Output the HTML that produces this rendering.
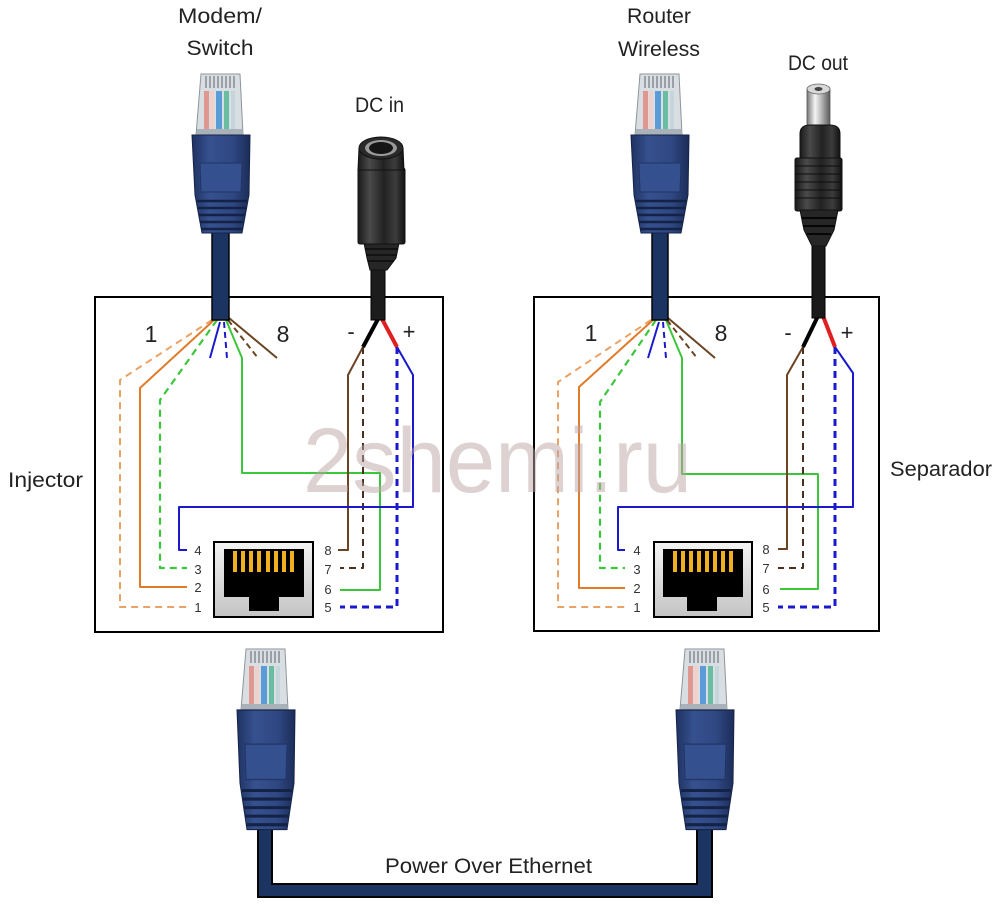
<!DOCTYPE html>
<html>
<head>
<meta charset="utf-8">
<style>
  html,body{margin:0;padding:0;background:#fff;}
  svg{display:block;}
  text{font-family:"Liberation Sans",sans-serif;}
</style>
</head>
<body>
<svg width="998" height="917" viewBox="0 0 998 917" xmlns="http://www.w3.org/2000/svg">
  <defs>
    <linearGradient id="bootg" x1="0" y1="0" x2="1" y2="0">
      <stop offset="0" stop-color="#1f3262"/>
      <stop offset="0.3" stop-color="#36518f"/>
      <stop offset="0.7" stop-color="#2f4883"/>
      <stop offset="1" stop-color="#1b2c58"/>
    </linearGradient>
    <linearGradient id="blackg" x1="0" y1="0" x2="1" y2="0">
      <stop offset="0" stop-color="#1a1a1a"/>
      <stop offset="0.25" stop-color="#4a4a4a"/>
      <stop offset="0.55" stop-color="#222"/>
      <stop offset="0.8" stop-color="#3c3c3c"/>
      <stop offset="1" stop-color="#121212"/>
    </linearGradient>
    <linearGradient id="metalg" x1="0" y1="0" x2="1" y2="0">
      <stop offset="0" stop-color="#777"/>
      <stop offset="0.35" stop-color="#f4f4f4"/>
      <stop offset="0.6" stop-color="#bdbdbd"/>
      <stop offset="1" stop-color="#5a5a5a"/>
    </linearGradient>
    <linearGradient id="jackg" x1="0" y1="0" x2="0" y2="1">
      <stop offset="0" stop-color="#f4f4f4"/>
      <stop offset="1" stop-color="#c4c4c4"/>
    </linearGradient>
    <g id="head">
      <path d="M-19,1 L20,1 L23,62 L-24,62 Z" fill="#d9dee2" stroke="#8e959a" stroke-width="1"/>
      <g stroke="#80878c" stroke-width="1.4">
        <line x1="-14" y1="3" x2="-14" y2="15"/><line x1="-10" y1="3" x2="-10" y2="15"/>
        <line x1="-6" y1="3" x2="-6" y2="15"/><line x1="-2" y1="3" x2="-2" y2="15"/>
        <line x1="2" y1="3" x2="2" y2="15"/><line x1="6" y1="3" x2="6" y2="15"/>
        <line x1="10" y1="3" x2="10" y2="15"/><line x1="14" y1="3" x2="14" y2="15"/>
      </g>
      <rect x="-16" y="18" width="5" height="38" fill="#e0978f"/>
      <rect x="-10" y="18" width="4" height="38" fill="#efd0ca"/>
      <rect x="-4" y="18" width="6" height="38" fill="#5b9bd8"/>
      <rect x="4" y="18" width="5" height="38" fill="#69bda0"/>
      <rect x="11" y="18" width="4" height="38" fill="#c6d4dc"/>
      <rect x="-23" y="56" width="45" height="6" fill="#aab2b9"/>
    </g>
    <g id="boot">
      <path d="M-28,0 L30,0 L29,60 L22,98 L-18,98 L-25,60 Z" fill="url(#bootg)" stroke="#16244a" stroke-width="1"/>
      <path d="M-20,28 L22,28 L21,57 L-19,57 Z" fill="#34508f" stroke="#213566" stroke-width="1"/>
      <g stroke="#142245" stroke-width="2.5">
        <line x1="-23" y1="66" x2="27" y2="66"/>
        <line x1="-22" y1="73" x2="26" y2="73"/>
        <line x1="-21" y1="80" x2="25" y2="80"/>
        <line x1="-20" y1="87" x2="24" y2="87"/>
        <line x1="-19" y1="94" x2="23" y2="94"/>
      </g>
    </g>
  </defs>

  <!-- Top labels -->
  <text x="220" y="23" font-size="21" fill="#222" text-anchor="middle" textLength="84" lengthAdjust="spacingAndGlyphs">Modem/</text>
  <text x="220" y="55" font-size="21" fill="#222" text-anchor="middle" textLength="67" lengthAdjust="spacingAndGlyphs">Switch</text>
  <text x="659" y="23" font-size="21" fill="#222" text-anchor="middle" textLength="64" lengthAdjust="spacingAndGlyphs">Router</text>
  <text x="659" y="56" font-size="21" fill="#222" text-anchor="middle" textLength="82" lengthAdjust="spacingAndGlyphs">Wireless</text>
  <text x="355" y="112" font-size="21" fill="#222" textLength="49" lengthAdjust="spacingAndGlyphs">DC in</text>
  <text x="788" y="70" font-size="21" fill="#222" textLength="60" lengthAdjust="spacingAndGlyphs">DC out</text>
  <text x="8" y="487" font-size="21" fill="#222" textLength="75" lengthAdjust="spacingAndGlyphs">Injector</text>
  <text x="890" y="476" font-size="21" fill="#222" textLength="102" lengthAdjust="spacingAndGlyphs">Separador</text>
  <text x="385" y="873" font-size="21" fill="#222" textLength="207" lengthAdjust="spacingAndGlyphs">Power Over Ethernet</text>

  <!-- Boxes -->
  <rect x="95" y="297" width="348" height="335" fill="none" stroke="#000" stroke-width="2"/>
  <rect x="534" y="297" width="345" height="334" fill="none" stroke="#000" stroke-width="2"/>

  <!-- ===== LEFT (Injector) wiring ===== -->
  <g fill="none" stroke-linejoin="round">
    <path d="M212,320 L120,380 L120,607 L187,607" stroke="#e9a266" stroke-width="2" stroke-dasharray="7 5"/>
    <path d="M214,320 L140,388 L140,587 L187,587" stroke="#e07b2a" stroke-width="2"/>
    <path d="M217,320 L160,400 L160,568 L187,568" stroke="#3cc63c" stroke-width="2.2" stroke-dasharray="7 5"/>
    <path d="M220,322 L210,358" stroke="#1a1acc" stroke-width="2"/>
    <path d="M224,322 L227,358" stroke="#1a1acc" stroke-width="2" stroke-dasharray="6 4"/>
    <path d="M226,320 L242,358 L242,473 L380,473 L380,590 L340,590" stroke="#3cc63c" stroke-width="2"/>
    <path d="M228,320 L258,358" stroke="#6b4423" stroke-width="2" stroke-dasharray="6 4"/>
    <path d="M229,318 L277,358" stroke="#6b4423" stroke-width="2"/>
    <path d="M363,347 L348,375 L348,550 L338,550" stroke="#6b4423" stroke-width="2"/>
    <path d="M363,347 L363,568 L340,568" stroke="#4a3020" stroke-width="2" stroke-dasharray="7 5"/>
    <path d="M397,347 L397,607 L340,607" stroke="#1a1acc" stroke-width="3" stroke-dasharray="7 5"/>
    <path d="M397,347 L413,375 L413,507 L179,507 L179,550 L187,550" stroke="#1a1acc" stroke-width="2"/>
    <path d="M378,319 L363,347" stroke="#000" stroke-width="4"/>
    <path d="M382,319 L397,347" stroke="#e02020" stroke-width="4"/>
  </g>

  <!-- ===== RIGHT (Separador) wiring ===== -->
  <g fill="none" stroke-linejoin="round">
    <path d="M651,320 L558,382 L558,607 L625,607" stroke="#e9a266" stroke-width="2" stroke-dasharray="7 5"/>
    <path d="M653,320 L579,387 L579,588 L625,588" stroke="#e07b2a" stroke-width="2"/>
    <path d="M656,320 L600,402 L600,568 L625,568" stroke="#3cc63c" stroke-width="2.2" stroke-dasharray="7 5"/>
    <path d="M659,322 L648,358" stroke="#1a1acc" stroke-width="2"/>
    <path d="M663,322 L666,358" stroke="#1a1acc" stroke-width="2" stroke-dasharray="6 4"/>
    <path d="M666,320 L682,358 L682,474 L818,474 L818,589 L780,589" stroke="#3cc63c" stroke-width="2"/>
    <path d="M667,320 L697,358" stroke="#6b4423" stroke-width="2" stroke-dasharray="6 4"/>
    <path d="M668,318 L715,358" stroke="#6b4423" stroke-width="2"/>
    <path d="M803,347 L787,375 L787,549 L778,549" stroke="#6b4423" stroke-width="2"/>
    <path d="M803,347 L803,568 L778,568" stroke="#4a3020" stroke-width="2" stroke-dasharray="7 5"/>
    <path d="M835,347 L835,607 L778,607" stroke="#1a1acc" stroke-width="3" stroke-dasharray="7 5"/>
    <path d="M835,347 L853,373 L853,507 L618,507 L618,550 L625,550" stroke="#1a1acc" stroke-width="2"/>
    <path d="M818,316 L803,347" stroke="#000" stroke-width="4"/>
    <path d="M823,316 L835,347" stroke="#e02020" stroke-width="4"/>
  </g>

  <!-- Big labels -->
  <g font-size="23" fill="#222" text-anchor="middle">
    <text x="151" y="342">1</text>
    <text x="283" y="342">8</text>
    <text x="591" y="341">1</text>
    <text x="721" y="341">8</text>
  </g>
  <g font-size="22" fill="#222" text-anchor="middle">
    <text x="351" y="339">-</text>
    <text x="409" y="339">+</text>
    <text x="788" y="340">-</text>
    <text x="847" y="340">+</text>
  </g>

  <!-- Pin numbers -->
  <g font-size="13" fill="#333" text-anchor="middle">
    <text x="198" y="555">4</text><text x="198" y="574">3</text>
    <text x="198" y="592">2</text><text x="198" y="612">1</text>
    <text x="328" y="555">8</text><text x="328" y="574">7</text>
    <text x="328" y="594">6</text><text x="328" y="612">5</text>
    <text x="637" y="555">4</text><text x="637" y="574">3</text>
    <text x="637" y="593">2</text><text x="637" y="612">1</text>
    <text x="766" y="554">8</text><text x="766" y="573">7</text>
    <text x="766" y="594">6</text><text x="766" y="612">5</text>
  </g>

  <!-- RJ45 jacks -->
  <g>
    <rect x="214" y="542" width="99" height="75" fill="url(#jackg)" stroke="#000" stroke-width="2"/>
    <path d="M224,549 L304,549 L304,597 L279,597 L279,611 L249,611 L249,597 L224,597 Z" fill="#000"/>
    <g fill="#f0b020">
      <rect x="233" y="551" width="4" height="21"/><rect x="241" y="551" width="4" height="21"/>
      <rect x="249" y="551" width="4" height="21"/><rect x="257" y="551" width="4" height="21"/>
      <rect x="266" y="551" width="4" height="21"/><rect x="274" y="551" width="4" height="21"/>
      <rect x="282" y="551" width="4" height="21"/><rect x="290" y="551" width="4" height="21"/>
    </g>
  </g>
  <g>
    <rect x="654" y="542" width="98" height="75" fill="url(#jackg)" stroke="#000" stroke-width="2"/>
    <path d="M663,549 L743,549 L743,597 L717,597 L717,611 L687,611 L687,597 L663,597 Z" fill="#000"/>
    <g fill="#f0b020">
      <rect x="673" y="551" width="4" height="21"/><rect x="681" y="551" width="4" height="21"/>
      <rect x="689" y="551" width="4" height="21"/><rect x="697" y="551" width="4" height="21"/>
      <rect x="705" y="551" width="4" height="21"/><rect x="713" y="551" width="4" height="21"/>
      <rect x="721" y="551" width="4" height="21"/><rect x="729" y="551" width="4" height="21"/>
    </g>
  </g>

  <!-- Top RJ45 cables -->
  <rect x="212" y="228" width="17" height="92" fill="#1b3461" stroke="#050505" stroke-width="1.5"/>
  <rect x="652" y="228" width="16" height="92" fill="#1b3461" stroke="#050505" stroke-width="1.5"/>

  <!-- Top plugs -->
  <use href="#head" transform="translate(220,73)"/>
  <use href="#boot" transform="translate(220,135)"/>
  <use href="#head" transform="translate(659,73)"/>
  <use href="#boot" transform="translate(659,135)"/>

  <!-- Bottom cable -->
  <path d="M258,828 L272,828 L272,884 L697,884 L697,828 L712,828 L712,897 L258,897 Z" fill="#1b3461" stroke="#050505" stroke-width="2" stroke-linejoin="miter"/>

  <!-- Bottom plugs -->
  <use href="#head" transform="translate(265,648)"/>
  <use href="#boot" transform="translate(265,710) scale(1,1.22)"/>
  <use href="#head" transform="translate(704,648)"/>
  <use href="#boot" transform="translate(704,710) scale(1,1.22)"/>

  <!-- DC in jack -->
  <rect x="371" y="266" width="14" height="54" fill="#1c1c1c" stroke="#000" stroke-width="1"/>
  <path d="M364,243 L399,243 L396,258 L387,270 L370,270 L367,258 Z" fill="#262626" stroke="#111"/>
  <g stroke="#0c0c0c" stroke-width="1.5">
    <line x1="365" y1="249" x2="398" y2="249"/>
    <line x1="366" y1="255" x2="397" y2="255"/>
    <line x1="368" y1="261" x2="394" y2="261"/>
  </g>
  <rect x="358" y="168" width="47" height="76" rx="2" fill="url(#blackg)" stroke="#111"/>
  <path d="M359,148 L403,148 L404,170 L358,170 Z" fill="url(#blackg)" stroke="#111"/>
  <ellipse cx="381" cy="148" rx="22" ry="11" fill="#2a2a2a" stroke="#111"/>
  <ellipse cx="381" cy="148" rx="16" ry="8" fill="#9a9a9a"/>
  <ellipse cx="381" cy="148" rx="12" ry="6" fill="#151515"/>

  <!-- DC out plug -->
  <rect x="812" y="243" width="13" height="75" fill="#1a1a1a" stroke="#000" stroke-width="1"/>
  <rect x="807" y="89" width="23" height="46" fill="url(#metalg)" stroke="#555" stroke-width="0.8"/>
  <ellipse cx="818.5" cy="89" rx="11.5" ry="5" fill="#d8d8d8" stroke="#666" stroke-width="0.8"/>
  <ellipse cx="818.5" cy="89" rx="4" ry="2" fill="#444"/>
  <path d="M800,160 L800,134 Q800,125 810,125 L830,125 Q840,125 840,134 L840,160 Z" fill="url(#blackg)" stroke="#111"/>
  <rect x="795" y="158" width="47" height="53" rx="2" fill="url(#blackg)" stroke="#111"/>
  <g stroke="#0d0d0d" stroke-width="1">
    <line x1="796" y1="166" x2="841" y2="166"/>
    <line x1="796" y1="174" x2="841" y2="174"/>
    <line x1="796" y1="182" x2="841" y2="182"/>
    <line x1="796" y1="190" x2="841" y2="190"/>
    <line x1="796" y1="198" x2="841" y2="198"/>
  </g>
  <path d="M800,210 L838,210 L834,230 L826,246 L812,246 L804,230 Z" fill="#262626" stroke="#111"/>
  <g stroke="#050505" stroke-width="2">
    <line x1="802" y1="218" x2="836" y2="218"/>
    <line x1="803" y1="226" x2="835" y2="226"/>
    <line x1="807" y1="234" x2="831" y2="234"/>
  </g>

  <!-- Watermark -->
  <text x="303" y="492" font-size="92" fill="#bba3a3" fill-opacity="0.5" textLength="389" lengthAdjust="spacingAndGlyphs">2shemi.ru</text>
</svg>
</body>
</html>
